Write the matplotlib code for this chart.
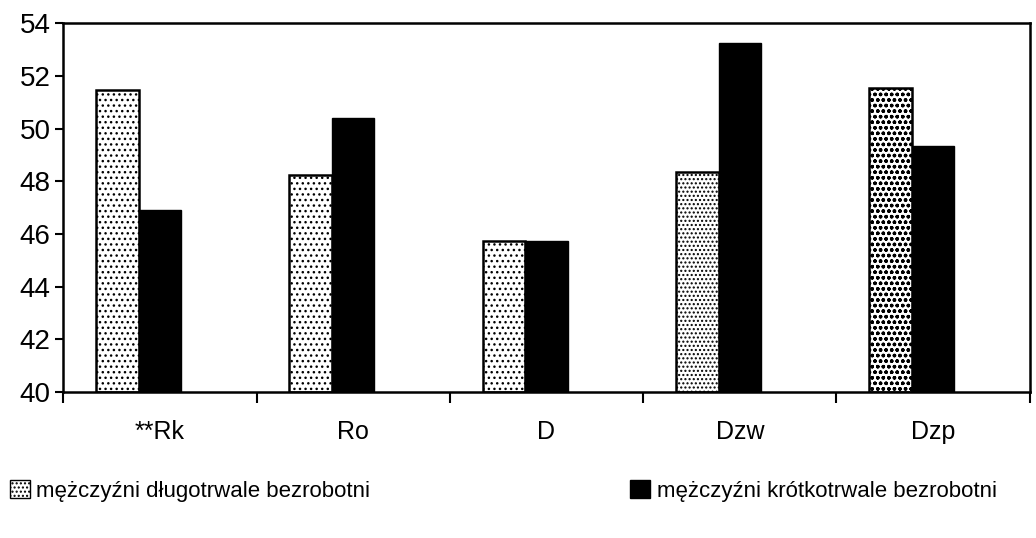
import numpy as np
import matplotlib
matplotlib.use("Agg")
import matplotlib.pyplot as plt
from matplotlib.patches import Patch

plt.rcParams.update({"font.family": ["Liberation Sans", "DejaVu Sans"], "hatch.linewidth": 1.0})

categories = ["**Rk", "Ro", "D", "Dzw", "Dzp"]
long_term = [51.45, 48.25, 45.75, 48.35, 51.55]
short_term = [46.9, 50.4, 45.75, 53.25, 49.35]
labels = ["mężczyźni długotrwale bezrobotni", "mężczyźni krótkotrwale bezrobotni"]

fig = plt.figure(figsize=(10.36, 5.38), dpi=100)
ax = fig.add_axes([0.061, 0.271, 0.933, 0.686])

x = np.arange(len(categories))
w = 0.22
shift = -0.11
hatches = ["...", "...", "...", "....", "ooo"]
for xi, v, h in zip(x, long_term, hatches):
    ax.bar(xi + shift - w / 2, v - 40, w, bottom=40, color="white", edgecolor="black", hatch=h, lw=1.8)
ax.bar(x + shift + w / 2, np.array(short_term) - 40, w, bottom=40, color="black", edgecolor="black", lw=1.0)

ax.set_ylim(40, 54)
ax.set_xlim(-0.5, len(categories) - 0.5)
ax.set_yticks(range(40, 55, 2))
ax.set_xticks(x)
ax.set_xticklabels(categories)
ax.set_xticks(np.arange(-0.5, len(categories), 1), minor=True)
ax.tick_params(axis="x", which="major", length=0, pad=20, labelsize=18)
ax.tick_params(axis="x", which="minor", length=8, width=1.5, direction="out")
ax.tick_params(axis="y", length=6, width=1.5, labelsize=20, pad=3)
for s in ax.spines.values():
    s.set_linewidth(1.8)

handles = [Patch(facecolor="white", edgecolor="black", hatch="....", label=labels[0]),
           Patch(facecolor="black", edgecolor="black", label=labels[1])]
fig.legend(handles=handles, loc="lower left", bbox_to_anchor=(-0.01, 0.03), ncol=2, frameon=False,
           fontsize=16, handlelength=0.9, handleheight=0.9, handletextpad=0.3, columnspacing=11.7)

fig.savefig("out.png", dpi=100)
